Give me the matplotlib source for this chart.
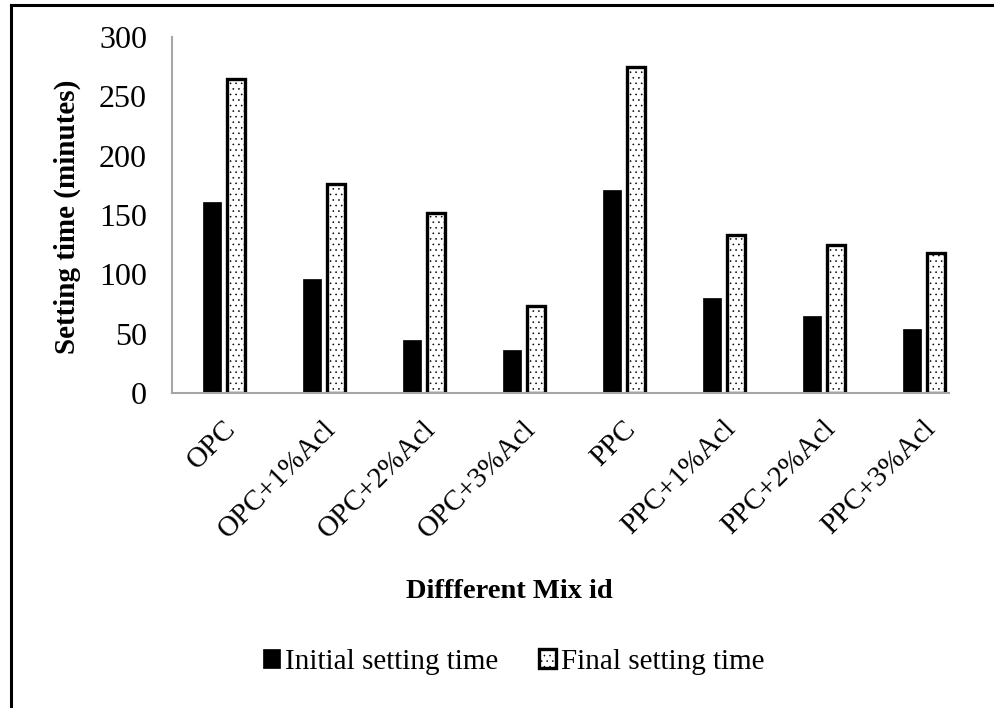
import matplotlib
matplotlib.use("Agg")
import matplotlib.pyplot as plt
import matplotlib.transforms as mtransforms
import numpy as np
from matplotlib.lines import Line2D

categories = ["OPC", "OPC+1%Acl", "OPC+2%Acl", "OPC+3%Acl",
              "PPC", "PPC+1%Acl", "PPC+2%Acl", "PPC+3%Acl"]
initial_setting = [161, 96, 45, 36, 171, 80, 65, 54]
final_setting = [265, 176, 152, 73, 275, 133, 125, 118]
series_names = ["Initial setting time", "Final setting time"]
yticks = [0, 50, 100, 150, 200, 250, 300]

plt.rcParams['font.family'] = ['Liberation Serif', 'DejaVu Serif']
plt.rcParams['hatch.linewidth'] = 0.4
plt.rcParams['hatch.color'] = 'black'

W, H = 994, 708
fig = plt.figure(figsize=(W / 100, H / 100), dpi=100)
ax_l, ax_r, ax_b, ax_t = 172, 949, 393, 37
ax = fig.add_axes([ax_l / W, 1 - ax_b / H, (ax_r - ax_l) / W, (ax_b - ax_t) / H])

x = np.arange(len(categories))
w = 0.18
gap = 0.06
ax.bar(x - (w + gap) / 2, initial_setting, width=w, color='black',
       edgecolor='black', linewidth=0.5, label=series_names[0])
ax.bar(x + (w + gap) / 2, final_setting, width=w, color='white',
       edgecolor='black', linewidth=2.4, hatch='...', label=series_names[1])

ax.set_xlim(-0.515, 7.255)
ax.set_ylim(0, 300)
ax.set_yticks(yticks)
ax.set_yticklabels([str(v) for v in yticks], fontsize=23)
ax.set_xticks(x)
ax.set_xticklabels(categories, rotation=45, ha='right', va='center',
                   rotation_mode='anchor', fontsize=21)
ax.tick_params(axis='x', length=0, pad=0)
ax.tick_params(axis='y', length=0, pad=18)
offset = mtransforms.ScaledTranslation(8 / 100, -32 / 100, fig.dpi_scale_trans)
for lab in ax.get_xticklabels():
    lab.set_transform(lab.get_transform() + offset)

for s in ['top', 'right']:
    ax.spines[s].set_visible(False)
for s in ['left', 'bottom']:
    ax.spines[s].set_color('#a6a6a6')
    ax.spines[s].set_linewidth(1.5)

axw = ax_r - ax_l
axh = ax_b - ax_t
ax.set_ylabel("Setting time (minutes)", fontsize=21, fontweight='bold',
              va='center', ha='center')
ax.yaxis.set_label_coords((67 - ax_l) / axw, (ax_b - 217) / axh)
ax.set_xlabel("Diffferent Mix id", fontsize=20.5, fontweight='bold',
              va='center', ha='center')
ax.xaxis.set_label_coords((509.5 - ax_l) / axw, (ax_b - 592) / axh)

leg = fig.legend(loc='center', bbox_to_anchor=(513.5 / W, 1 - 662 / H), ncol=2,
                 frameon=False, fontsize=21, handlelength=0.6, handleheight=0.6,
                 handletextpad=0.15, columnspacing=1.4)

# figure frame (top and left edges)
fig.add_artist(Line2D([11 / W, 11 / W], [0, 1 - 5 / H], transform=fig.transFigure,
                      color='black', linewidth=2.2))
fig.add_artist(Line2D([11 / W, 1], [1 - 5 / H, 1 - 5 / H], transform=fig.transFigure,
                      color='black', linewidth=2.2))

fig.savefig("out.png", dpi=100)
